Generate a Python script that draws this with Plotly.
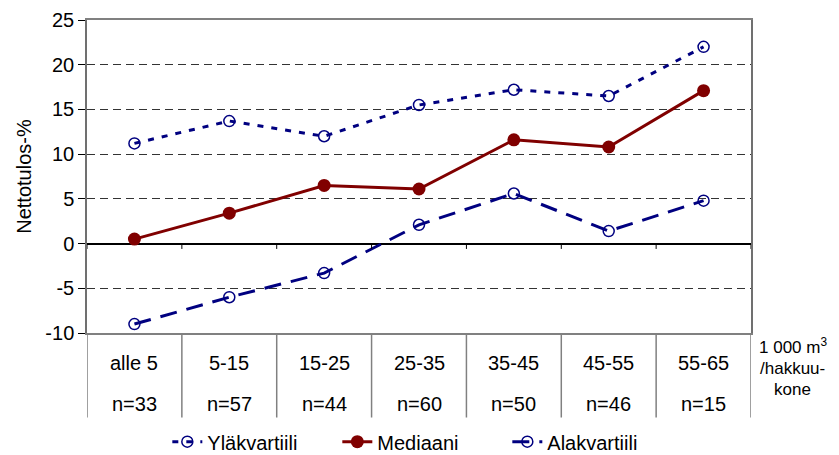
import plotly.graph_objects as go

# Data
categories = ["alle 5", "5-15", "15-25", "25-35", "35-45", "45-55", "55-65"]
counts = ["n=33", "n=57", "n=44", "n=60", "n=50", "n=46", "n=15"]
ylakvartiili = [11.2, 13.7, 12.0, 15.5, 17.2, 16.5, 22.0]
mediaani = [0.5, 3.4, 6.5, 6.1, 11.6, 10.8, 17.1]
alakvartiili = [-9.0, -6.0, -3.3, 2.1, 5.6, 1.4, 4.8]
y_ticks = [-10, -5, 0, 5, 10, 15, 20, 25]
y_ticktext = ["-10", "-5", "0", "5", "10", "15", "20", "25"]

x = list(range(len(categories)))
navy = "#000080"
maroon = "#800000"
font_family = "Liberation Sans, Arial, sans-serif"

fig = go.Figure()

# Upper quartile
fig.add_trace(go.Scatter(
    x=x, y=ylakvartiili, name="Yläkvartiili", mode="lines+markers",
    line=dict(color=navy, width=3, dash="6px,8px"),
    marker=dict(symbol="circle-open", size=11, color=navy, line=dict(width=1.5)),
))

# Median
fig.add_trace(go.Scatter(
    x=x, y=mediaani, name="Mediaani", mode="lines+markers",
    line=dict(color=maroon, width=3),
    marker=dict(symbol="circle", size=13, color=maroon),
))

# Lower quartile
fig.add_trace(go.Scatter(
    x=x, y=alakvartiili, name="Alakvartiili", mode="lines+markers",
    line=dict(color=navy, width=3, dash="17px,10px"),
    marker=dict(symbol="circle-open", size=11, color=navy, line=dict(width=1.5)),
))

shapes = []
# table separators below the plot
for k in range(len(categories) + 1):
    shapes.append(dict(type="line", xref="x", yref="paper",
                       x0=k - 0.5, x1=k - 0.5, y0=0, y1=-0.27,
                       line=dict(color="#808080", width=1.5)))
    # small ticks on zero line
    shapes.append(dict(type="line", xref="x", yref="y",
                       x0=k - 0.5, x1=k - 0.5, y0=0, y1=-0.6,
                       line=dict(color="black", width=1)))

annotations = []
for i, (c, n) in enumerate(zip(categories, counts)):
    annotations.append(dict(x=i, y=-0.097, xref="x", yref="paper", text=c,
                            xanchor="center", yanchor="middle",
                            showarrow=False, font=dict(size=20)))
    annotations.append(dict(x=i, y=-0.228, xref="x", yref="paper", text=n,
                            xanchor="center", yanchor="middle",
                            showarrow=False, font=dict(size=20)))

# unit label at right
for txt, yy in [("1 000 m<sup>3</sup>", -0.04), ("/hakkuu-", -0.112), ("kone", -0.182)]:
    annotations.append(dict(x=1.063, y=yy, xref="paper", yref="paper", text=txt,
                            xanchor="center", yanchor="middle",
                            showarrow=False, font=dict(size=17)))

# page body has an 8px margin, so the figure is shrunk and shifted to fit
fig.update_layout(
    width=831, height=447,
    margin=dict(l=79, r=88, t=12, b=122, autoexpand=False),
    paper_bgcolor="white", plot_bgcolor="white",
    font=dict(family=font_family, size=20, color="black"),
    showlegend=True,
    legend=dict(orientation="h", x=0.505, xanchor="center", y=-0.285, yanchor="top",
                font=dict(size=20), entrywidth=125, entrywidthmode="pixels",
                tracegroupgap=0),
    shapes=shapes,
    annotations=annotations,
)

fig.update_xaxes(
    range=[-0.5, 6.5], showticklabels=False, ticks="", showgrid=False,
    showline=True, linecolor="#808080", linewidth=1.5, mirror=True, zeroline=False,
    automargin=False,
)
fig.update_yaxes(
    range=[-10, 25], tickvals=y_ticks, ticktext=y_ticktext,
    ticks="outside", ticklen=7, tickcolor="black",
    showgrid=True, gridcolor="#333333", griddash="8px,5px", gridwidth=1,
    zeroline=True, zerolinecolor="black", zerolinewidth=1.5,
    showline=True, linecolor="#707070", linewidth=1.5, mirror=True,
    title=dict(text="Nettotulos-%", font=dict(size=20), standoff=8),
    tickfont=dict(size=20), automargin=False,
)

fig.write_html("out.html")
